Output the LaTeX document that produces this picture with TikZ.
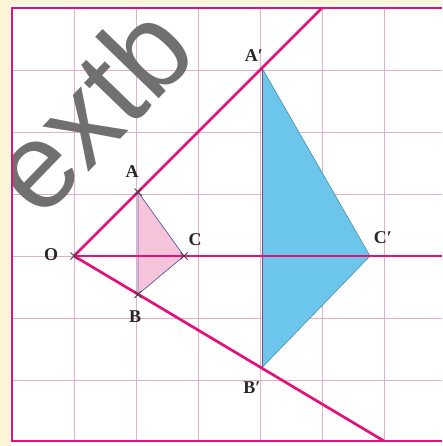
\documentclass[tikz,border=0pt]{standalone}
\usepackage{fontspec}
\usetikzlibrary{calc}
\setmainfont{Liberation Serif}
\newfontfamily\wmfont{Liberation Sans}
\definecolor{magline}{HTML}{E3127A}
\definecolor{gridpink}{HTML}{E0B0CB}
\definecolor{bluefill}{HTML}{6CC6EC}
\definecolor{pinkfill}{HTML}{F6C4DA}
\definecolor{paleyellow}{HTML}{FDF5D6}
\definecolor{wmgray}{HTML}{707070}
\tikzset{
  magstyle/.style={draw=magline, line width=2.7pt},
  gridstyle/.style={draw=gridpink, line width=0.8pt},
  crossmark/.style={draw=black!75, line width=0.9pt},
  lbl/.style={font=\fontsize{18}{18}\selectfont\bfseries, text=black!85, inner sep=0pt},
  triedge/.style={draw=gray!70!blue, line width=0.7pt}
}
\begin{document}
\begin{tikzpicture}[x=1pt,y=-1pt]
\useasboundingbox (0,0) rectangle (442,446);
\fill[white] (0,0) rectangle (442,446);
\fill[paleyellow] (0,0) rectangle (10,446);
\fill[paleyellow] (0,0) rectangle (442,5);
% grid
\foreach \k in {1,...,6} \draw[gridstyle] ({12+62*\k},8) -- ({12+62*\k},441);
\foreach \k in {1,...,6} \draw[gridstyle] (12,{8+62*\k}) -- (442,{8+62*\k});
% points
\coordinate (O) at (74,256);
\coordinate (A) at (138,192);
\coordinate (B) at (138,294.4);
\coordinate (C) at (184,256);
\coordinate (A1) at (262,68);
\coordinate (B1) at (262,367.6);
\coordinate (C1) at (370,256);
\coordinate (T) at (322,8);
\coordinate (R) at (442,256);
\coordinate (D) at (384,441);
% triangles
\fill[pinkfill] (A) -- (B) -- (C) -- cycle;
\draw[triedge] (A) -- (B) -- (C) -- cycle;
\fill[bluefill] (A1) -- (B1) -- (C1) -- cycle;
\draw[draw=bluefill!70!black, line width=0.6pt] (A1) -- (C1) -- (B1);
\draw[draw=gray!60!violet, line width=0.9pt] (A1) -- (B1);
% watermark
\begin{scope}
\clip (12,0) rectangle (442,446);
\node[anchor=base west, rotate=46, text=wmgray, inner sep=0pt,
      font=\wmfont\fontsize{122}{122}\selectfont] (wm) at (40,222) {extb};
\end{scope}
% rays
\draw[magstyle] (O) -- (T);
\draw[magstyle] (O) -- (R);
\draw[magstyle] (O) -- (D);
% border
\draw[magstyle] (442,8) -- (12,8) -- (12,441) -- (442,441);
% cross marks
\foreach \p in {O,A,B,C} {
  \draw[crossmark] ($(\p)+(-3.5,-3.5)$) -- ($(\p)+(3.5,3.5)$);
  \draw[crossmark] ($(\p)+(-3.5,3.5)$) -- ($(\p)+(3.5,-3.5)$);
}
% labels
\node[lbl] (lO) at (51,255) {O};
\node[lbl] (lA) at (132,172) {A};
\node[lbl] (lB) at (135,317) {B};
\node[lbl] (lC) at (195,240) {C};
\node[lbl] (lA1) at (254,56) {A′};
\node[lbl] (lB1) at (252,388) {B′};
\node[lbl] (lC1) at (383,238) {C′};
\end{tikzpicture}
\end{document}
